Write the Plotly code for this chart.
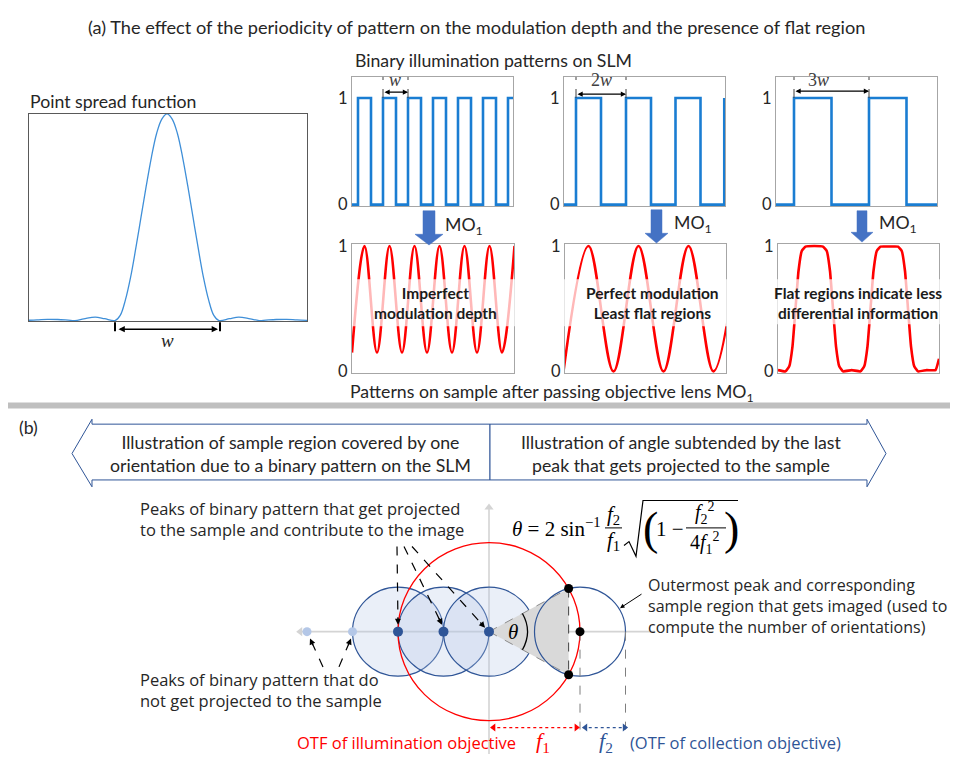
import math
import plotly.graph_objects as go

# page body has an 8px margin: the figure is drawn 8px in from the top-left corner
OFF = 8
W, H = 958, 762
FW, FH = W - OFF, H - OFF
def PX(x): return (x - OFF) / FW
def PY(y): return 1 - (y - OFF) / FH

# ---------------- data ----------------
# Point spread function (x in units of the half-width of the main lobe)
psf_x = [-2.7, -2.5, -2.3, -2.1, -1.9, -1.77, -1.6, -1.38, -1.2, -1.0,
         -0.9, -0.8, -0.7, -0.6, -0.5, -0.4, -0.3, -0.2, -0.1, 0.0,
         0.1, 0.2, 0.3, 0.4, 0.5, 0.6, 0.7, 0.8, 0.9,
         1.0, 1.2, 1.38, 1.6, 1.77, 1.9, 2.1, 2.3, 2.5, 2.7]
psf_y = [0.001, 0.003, 0.006, 0.005, 0.002, 0.0, 0.008, 0.017, 0.009, 0.0,
         0.025, 0.10, 0.21, 0.35, 0.50, 0.65, 0.79, 0.905, 0.975, 1.0,
         0.975, 0.905, 0.79, 0.65, 0.50, 0.35, 0.21, 0.10, 0.025,
         0.0, 0.009, 0.017, 0.008, 0.0, 0.002, 0.005, 0.006, 0.003, 0.001]

# Binary patterns on the SLM (x in units of w; step edges)
bin1_x = [0, 0.24, 0.76, 1.24, 1.76, 2.24, 2.76, 3.24, 3.76, 4.24, 4.76, 5.24, 5.76, 6.24, 6.44]
bin1_y = [0, 1, 0, 1, 0, 1, 0, 1, 0, 1, 0, 1, 0, 1, 1]
bin2_x = [0, 0.48, 1.48, 2.48, 3.48, 4.46, 5.46, 6.41]
bin2_y = [0, 1, 0, 1, 0, 1, 0, 1]
bin3_x = [0, 0.72, 2.22, 3.72, 5.22, 6.44]
bin3_y = [0, 1, 0, 1, 0, 0]

# Patterns on the sample after the objective (extrema / sampled points)
red1_x = [0, 0.5, 1, 1.5, 2, 2.5, 3, 3.5, 4, 4.5, 5, 5.5, 6, 6.5]
red1_y = [0.15, 1, 0.15, 1, 0.15, 1, 0.15, 1, 0.15, 1, 0.15, 1, 0.15, 1]
red2_x = [-0.06, 0.94, 1.94, 2.94, 3.94, 4.94, 5.94, 6.94]
red2_y = [0.0, 1.0, 0.0, 1.0, 0.0, 1.0, 0.0, 1.0]
red3_x = [0, 0.3, 0.45, 0.58, 0.7, 0.82, 0.95, 1.1, 1.45, 1.8, 1.95, 2.08, 2.2, 2.32,
          2.45, 2.6, 2.95, 3.3, 3.45, 3.58, 3.7, 3.82, 3.95, 4.1, 4.45, 4.8, 4.95,
          5.08, 5.2, 5.32, 5.45, 5.6, 5.95, 6.3, 6.44]
red3_y = [0.01, 0.0, 0.04, 0.2, 0.5, 0.8, 0.96, 0.995, 1.0, 0.995, 0.96, 0.8, 0.5, 0.2,
          0.04, 0.0, 0.01, 0.0, 0.04, 0.2, 0.5, 0.8, 0.96, 0.995, 0.995, 0.995, 0.96,
          0.8, 0.5, 0.2, 0.04, 0.0, 0.01, 0.01, 0.1]

ytick_vals = [0, 1]
ytick_text = ["0", "1"]

# Part (b): OTF geometry (units of f2)
f1 = 2.0                 # OTF radius of illumination objective
f2 = 1.0                 # OTF radius of collection objective
proj_peaks = [-2, -1, 0]  # peaks that get projected
lost_peaks = [-4, -3]     # peaks that do not get projected
outer_peak = 2.0          # outermost peak

# ---------------- styling ----------------
CAL = "Lato"
SEG = "Open Sans"
MATH = "Liberation Serif"
TXT = "#262626"
NAVY = "#2F5597"
BLUE = "#1a7dd2"
RED = "#ff0000"
TS = 17.7  # main text size

fig = go.Figure()

panels = [  # name, x0, x1, y0, y1 (pixels), xrange, yrange, border
    ("psf", 29, 307, 108, 320, [-2.654, 2.692], [-0.004, 1.0], "#595959"),
    ("bin1", 352, 513, 70, 202, [0, 6.44], [-0.012, 1.2], "#a6a6a6"),
    ("bin2", 564, 725, 70, 202, [0, 6.44], [-0.012, 1.2], "#a6a6a6"),
    ("bin3", 776, 937, 70, 202, [0, 6.44], [-0.012, 1.2], "#a6a6a6"),
    ("red1", 352, 514, 241, 373, [0, 6.48], [-0.015, 1.015], "#a6a6a6"),
    ("red2", 565, 726, 241, 373, [0, 6.44], [-0.015, 1.015], "#a6a6a6"),
    ("red3", 778, 939, 241, 373, [0, 6.44], [-0.015, 1.015], "#a6a6a6"),
]
layout = {}
axid = {}
for i, (name, x0, x1, y0, y1, xr, yr, bc) in enumerate(panels):
    n = "" if i == 0 else str(i + 1)
    axid[name] = ("x" + n, "y" + n)
    layout["xaxis" + n] = dict(domain=[PX(x0), PX(x1)], range=xr, anchor="y" + n,
                               showgrid=False, zeroline=False, showline=True, mirror=True,
                               linecolor=bc, linewidth=1.2 if name == "psf" else 1,
                               ticks="", showticklabels=False, fixedrange=True)
    ydict = dict(domain=[PY(y1), PY(y0)], range=yr, anchor="x" + n,
                 showgrid=False, zeroline=False, showline=True, mirror=True,
                 linecolor=bc, linewidth=1.2 if name == "psf" else 1,
                 ticks="", fixedrange=True)
    if name == "psf":
        ydict["showticklabels"] = False
    else:
        ydict.update(tickvals=ytick_vals, ticktext=ytick_text, showticklabels=True,
                     tickfont=dict(family=CAL, size=16.5, color=TXT))
    layout["yaxis" + n] = ydict

# overlay axis for part (b), 45.5 px per unit, origin at (489, 637)
S, OX, OY = 45.5, 489, 637
layout["xaxis8"] = dict(domain=[0, 1], range=[(OFF - OX) / S, (W - OX) / S], anchor="y8",
                        visible=False, fixedrange=True)
layout["yaxis8"] = dict(domain=[0, 1], range=[(OY - H) / S, (OY - OFF) / S], anchor="x8",
                        visible=False, fixedrange=True)

def add_line(name, x, y, color, width, shape, smoothing=1.0):
    xa, ya = axid[name]
    fig.add_trace(go.Scatter(x=x, y=y, mode="lines", xaxis=xa, yaxis=ya,
                             line=dict(color=color, width=width, shape=shape,
                                       smoothing=smoothing if shape == "spline" else None),
                             hoverinfo="skip"))

add_line("psf", psf_x, psf_y, "#3f8fd8", 1.3, "spline")
add_line("bin1", bin1_x, bin1_y, BLUE, 2.6, "hv")
add_line("bin2", bin2_x, bin2_y, BLUE, 2.6, "hv")
add_line("bin3", bin3_x, bin3_y, BLUE, 2.6, "hv")
add_line("red1", red1_x, red1_y, RED, 2.6, "spline")
add_line("red2", red2_x, red2_y, RED, 2.6, "spline")
add_line("red3", red3_x, red3_y, RED, 2.6, "spline", 0.35)

shapes = []
ann = []

def txt(x, y, s, size, color=TXT, family=CAL, xanchor="center", yanchor="middle", **kw):
    ann.append(dict(x=PX(x), y=PY(y), xref="paper", yref="paper", text=s, showarrow=False,
                    font=dict(family=family, size=size, color=color),
                    xanchor=xanchor, yanchor=yanchor, **kw))

def parrow(x0, y0, x1, y1, color="black", width=1.2, head=2, side="end", size=1.0):
    ann.append(dict(x=PX(x1), y=PY(y1), xref="paper", yref="paper", ax=x0 - x1, ay=y0 - y1,
                    axref="pixel", ayref="pixel", text="", showarrow=True, arrowhead=head,
                    arrowsize=size, arrowwidth=width, arrowcolor=color, arrowside=side,
                    standoff=0, startstandoff=0))

def pline(x0, y0, x1, y1, color="black", width=1.2, dash="solid", layer="above"):
    shapes.append(dict(type="line", xref="paper", yref="paper", x0=PX(x0), y0=PY(y0),
                       x1=PX(x1), y1=PY(y1), line=dict(color=color, width=width, dash=dash),
                       layer=layer))

def ppath(pts, fill, line_color, width=1, layer="above"):
    d = "M " + " L ".join(f"{PX(a):.5f},{PY(b):.5f}" for a, b in pts) + " Z"
    shapes.append(dict(type="path", xref="paper", yref="paper", path=d, fillcolor=fill,
                       line=dict(color=line_color, width=width), layer=layer))

def dashed_arrow(x0, y0, x1, y1, color="black", width=1.2):
    L = math.hypot(x1 - x0, y1 - y0)
    ux, uy = (x1 - x0) / L, (y1 - y0) / L
    pline(x0, y0, x1 - 6 * ux, y1 - 6 * uy, color, width, "dash")
    parrow(x1 - 9 * ux, y1 - 9 * uy, x1, y1, color, width, 2, "end", 1.0)

# ---------- part (a) texts ----------
txt(476, 19, "(a) The effect of the periodicity of pattern on the modulation depth and the presence of flat region", 18.2)
txt(28, 95, "Point spread function", TS, xanchor="left")
txt(494, 53, "Binary illumination patterns on SLM", TS)
txt(552, 393, "Patterns on sample after passing objective lens MO<sub>1</sub>", TS)

# PSF width marker
pline(115, 321, 115, 338, "black", 2, "dash")
pline(220, 321, 220, 338, "black", 2, "dash")
parrow(117, 328, 218, 328, "black", 1.4, 2, "end+start", 0.9)
txt(167, 340, "<i>w</i>", 19, family=MATH)

# binary period markers (data coords)
def dim(name, xa, xb, ylev, label, lx):
    xr, yr = axid[name]
    for xv in (xa, xb):
        shapes.append(dict(type="line", xref=xr, yref=yr, x0=xv, x1=xv, y0=1.0, y1=1.2,
                           line=dict(color="#404040", width=1, dash="dash")))
    ann.append(dict(x=xb, y=ylev, xref=xr, yref=yr, ax=xa, ay=ylev, axref=xr, ayref=yr,
                    text="", showarrow=True, arrowhead=2, arrowsize=0.8, arrowwidth=1.3,
                    arrowcolor="black", arrowside="end+start", standoff=0, startstandoff=0))
    ann.append(dict(x=lx, y=1.165, xref=xr, yref=yr, text=label, showarrow=False,
                    font=dict(family=MATH, size=18, color="#404040")))

dim("bin1", bin1_x[3], bin1_x[5], 1.055, "<i>w</i>", 1.72)
dim("bin2", bin2_x[1], bin2_x[3], 1.036, "2<i>w</i>", 1.48)
dim("bin3", bin3_x[1], bin3_x[3], 1.064, "3<i>w</i>", 1.70)

# MO1 block arrows
AC = "#4472C4"
for (xl, xr_, top, base, hl, hr, tip, cx, tx, ty) in [
        (423, 435, 207, 231, 415, 443, 242, 429, 443, 223),
        (651, 662, 206, 230, 645, 668, 240, 656.5, 672, 221),
        (857, 867, 207, 229, 851, 873, 239, 862, 877, 221)]:
    ppath([(xl, top), (xr_, top), (xr_, base), (hr, base), (cx, tip), (hl, base), (xl, base)],
          AC, AC, 0.5)
    txt(tx, ty, "MO<sub>1</sub>", TS, xanchor="left")

# faded text backgrounds + bold labels
for (x0, x1, y0, y1) in [(352, 516, 277, 325), (560, 733, 277, 325), (763, 955, 277, 323)]:
    shapes.append(dict(type="rect", xref="paper", yref="paper", x0=PX(x0), x1=PX(x1),
                       y0=PY(y1), y1=PY(y0), fillcolor="rgba(255,255,255,0.72)",
                       line=dict(width=0), layer="above"))
txt(435, 301, "<b>Imperfect<br>modulation depth</b>", 15.5, color="#1a1a1a")
txt(652, 301, "<b>Perfect modulation<br>Least flat regions</b>", 15.5, color="#1a1a1a")
txt(858, 301, "<b>Flat regions indicate less<br>differential information</b>", 15.5, color="#1a1a1a")

# separator bar
shapes.append(dict(type="rect", xref="paper", yref="paper", x0=PX(8), x1=PX(955),
                   y0=PY(409), y1=PY(403), fillcolor="#bfbfbf", line=dict(width=0)))

# ---------- part (b) ----------
txt(28, 428, "(b)", TS)
ppath([(92, 425), (490, 425), (490, 482), (92, 482), (92, 489), (72, 455), (92, 420)],
      "white", NAVY, 1)
ppath([(490, 425), (867, 425), (867, 420), (886, 455), (867, 489), (867, 482), (490, 482)],
      "white", NAVY, 1)
txt(290, 455, "Illustration of sample region covered by one<br>orientation due to a binary pattern on the SLM", TS)
txt(681, 455, "Illustration of angle subtended by the last<br>peak that gets projected to the sample", TS)

def dline(x0, y0, x1, y1, color, width=1, dash="solid", layer="below"):
    shapes.append(dict(type="line", xref="x8", yref="y8", x0=x0, y0=y0, x1=x1, y1=y1,
                       line=dict(color=color, width=width, dash=dash), layer=layer))

AX = "#d4d4d4"
ax_left, ax_right = lost_peaks[0] - 0.15, 3.65
ax_bot, ax_top = (OY - H) / S, 2.79
dline(ax_left, 0, ax_right, 0, AX, 1.6)
dline(0, ax_bot, 0, ax_top, AX, 1.6)

# blue filled regions of projected peaks
for p in proj_peaks:
    shapes.append(dict(type="circle", xref="x8", yref="y8", x0=p - f2, x1=p + f2,
                       y0=-f2, y1=f2, fillcolor="rgba(180,199,231,0.28)",
                       line=dict(color=NAVY, width=1.2), layer="below"))

# gray wedge
xi = (outer_peak ** 2 + f1 ** 2 - f2 ** 2) / (2 * outer_peak)
yi = (f1 ** 2 - xi ** 2) ** 0.5
shapes.append(dict(type="path", xref="x8", yref="y8",
                   path=f"M 0,0 L {xi},{yi} L {xi},{-yi} Z", fillcolor="#d9d9d9",
                   line=dict(width=0), layer="below"))
dline(0, 0, xi, yi, "#8c8c8c", 1, "dash")
dline(0, 0, xi, -yi, "#8c8c8c", 1, "dash")
dline(xi, yi, xi, -yi, "#404040", 1, "dash")

# OTF circles
shapes.append(dict(type="circle", xref="x8", yref="y8", x0=-f1, x1=f1, y0=-f1, y1=f1,
                   line=dict(color=RED, width=1.3), layer="below"))
shapes.append(dict(type="circle", xref="x8", yref="y8", x0=outer_peak - f2,
                   x1=outer_peak + f2, y0=-f2, y1=f2,
                   line=dict(color=NAVY, width=1.2), layer="below"))

# theta arc
ra = 0.84
half = math.atan2(yi, xi)
shapes.append(dict(type="path", xref="x8", yref="y8",
                   path=(f"M {ra*math.cos(half)},{ra*math.sin(half)} "
                         f"Q {ra/math.cos(half)},0 {ra*math.cos(half)},{-ra*math.sin(half)}"),
                   line=dict(color="black", width=1.3), layer="below"))
ann.append(dict(x=0.53, y=0, xref="x8", yref="y8", text="<i>θ</i>", showarrow=False,
                font=dict(family=MATH, size=21, color="black")))

# dashed drop lines & f1/f2 dotted arrows
vbot = (OY - 737) / S
dline(outer_peak, 0, outer_peak, vbot, "#7f7f7f", 1, "dash")
dline(outer_peak + f2, 0, outer_peak + f2, vbot, "#7f7f7f", 1, "dash")
varr = (OY - 735) / S
dline(0.05, varr, outer_peak - 0.03, varr, RED, 1.2, "dot")
dline(outer_peak + 0.06, varr, outer_peak + f2 + 0.03, varr, NAVY, 1.2, "dot")

def mk(x, y, color, size, symbol="circle"):
    fig.add_trace(go.Scatter(x=x, y=y, mode="markers", xaxis="x8", yaxis="y8",
                             marker=dict(color=color, size=size, symbol=symbol,
                                         line=dict(width=0)),
                             hoverinfo="skip", cliponaxis=False))

mk([ax_left], [0], AX, 8, "triangle-left")
mk([0], [ax_top], AX, 8, "triangle-up")
mk([0.1], [varr], RED, 7, "triangle-left")
mk([outer_peak - 0.08], [varr], RED, 7, "triangle-right")
mk([outer_peak + 0.12], [varr], NAVY, 7, "triangle-left")
mk([outer_peak + f2 - 0.02], [varr], NAVY, 7, "triangle-right")
mk(lost_peaks, [0] * len(lost_peaks), "#b4c7e7", 9)
mk(proj_peaks, [0] * len(proj_peaks), NAVY, 10)
mk([outer_peak, xi, xi], [0, yi, -yi], "black", 9)

# pointer arrows
dashed_arrow(397, 550, 398, 630)
dashed_arrow(404, 550, 442, 630)
dashed_arrow(412, 550, 485, 633)
dashed_arrow(323, 673, 310, 644)
dashed_arrow(339, 673, 351, 644)
parrow(643, 598, 620, 613, "black", 1, 2, "end", 0.9)

# labels
txt(138, 522, "Peaks of binary pattern that get projected<br>to the sample and contribute to the image",
    16.5, family=SEG, xanchor="left", align="left")
txt(138, 697, "Peaks of binary pattern that do<br>not get projected to the sample",
    16.5, family=SEG, xanchor="left", align="left")
txt(646, 611, "Outermost peak and corresponding<br>sample region that gets imaged (used to<br>compute the number of orientations)",
    16, family=SEG, xanchor="left", align="left")
txt(295, 750, "OTF of illumination objective", 16.5, color=RED, family=SEG, xanchor="left")
txt(543, 750, "<i>f</i><sub>1</sub>", 22, color=RED, family=MATH)
txt(606, 750, "<i>f</i><sub>2</sub>", 22, color=NAVY, family=MATH)
txt(628, 750, "(OTF of collection objective)", 16.5, color=NAVY, family=SEG, xanchor="left")

# formula
txt(603, 531, "<i>θ</i> = 2 sin<sup>−1</sup>", 21, color="black", family=MATH, xanchor="right")
txt(613, 518, "<i>f</i><sub>2</sub>", 21, color="black", family=MATH)
txt(613, 544, "<i>f</i><sub>1</sub>", 21, color="black", family=MATH)
pline(605, 531, 622, 531, "black", 1)
shapes.append(dict(type="path", xref="paper", yref="paper",
                   path=(f"M {PX(624)},{PY(549)} L {PX(629)},{PY(545)} L {PX(636)},{PY(560)} "
                         f"L {PX(643)},{PY(503)} L {PX(738)},{PY(503)}"),
                   line=dict(color="black", width=1.2)))
txt(650, 532, "(", 46, color="black", family=MATH)
txt(670, 532, "1 −", 21, color="black", family=MATH)
txt(705, 516, "<i>f</i><sub>2</sub><sup>2</sup>", 20, color="black", family=MATH)
txt(705, 546, "4<i>f</i><sub>1</sub><sup>2</sup>", 20, color="black", family=MATH)
pline(686, 531, 726, 531, "black", 1)
txt(731, 532, ")", 46, color="black", family=MATH)

fig.update_layout(width=FW, height=FH, margin=dict(l=0, r=0, t=0, b=0),
                  paper_bgcolor="white", plot_bgcolor="rgba(0,0,0,0)",
                  showlegend=False, shapes=shapes, annotations=ann, **layout)

fig.write_html("out.html")
